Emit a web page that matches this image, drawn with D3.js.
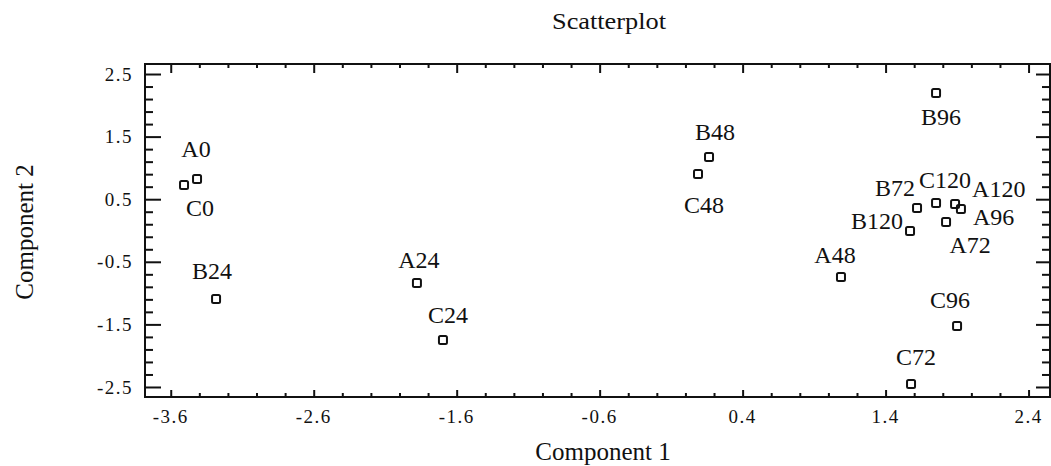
<!DOCTYPE html>
<html>
<head>
<meta charset="utf-8">
<script src="https://cdn.jsdelivr.net/npm/d3@7"></script>
<style>
  body { margin: 0; background: #fff; }
  svg text { font-family: "Liberation Serif", "Times New Roman", serif; fill: #111; }
</style>
</head>
<body>
<svg id="chart" width="1051" height="466"></svg>
<script>
(function() {
  'use strict';

  // sample names and their scores on the two components
  const names = ['A0', 'C0', 'B24', 'A24', 'C24', 'B48', 'C48', 'B96', 'B72',
    'C120', 'A120', 'A96', 'A72', 'B120', 'A48', 'C96', 'C72'];
  const comp1 = [-3.416, -3.507, -3.283, -1.878, -1.696, 0.165, 0.088, 1.753, 1.620,
    1.753, 1.886, 1.927, 1.823, 1.571, 1.088, 1.900, 1.578];
  const comp2 = [0.823, 0.727, -1.094, -0.839, -1.750, 1.174, 0.903, 2.197, 0.359,
    0.439, 0.423, 0.343, 0.136, -0.008, -0.743, -1.526, -2.453];

  const xTicks = [-3.6, -2.6, -1.6, -0.6, 0.4, 1.4, 2.4];
  const yTicks = [-2.5, -1.5, -0.5, 0.5, 1.5, 2.5];

  // where each label sits relative to its marker: [dx, dy, anchor]
  const labelPlace = [
    [-1, -22, 'middle'], [16, 31, 'middle'], [-4, -20, 'middle'], [2, -15, 'middle'],
    [5, -17, 'middle'], [6, -17, 'middle'], [6, 39, 'middle'], [5, 32, 'middle'],
    [-2, -12, 'end'], [9, -15, 'middle'], [17, -7, 'start'], [12, 16, 'start'],
    [24, 31, 'middle'], [-7, -2, 'end'], [-6, -14, 'middle'], [-7, -18, 'middle'],
    [5, -19, 'middle'],
  ];

  const svg = d3.select('#chart');
  const left = 145;
  const right = 1050;
  const top = 64;
  const bottom = 397;

  const x = d3.scaleLinear().domain([-3.78, 2.55]).range([left, right]);
  const y = d3.scaleLinear().domain([-2.66, 2.66]).range([bottom, top]);

  // plain hyphen for negatives, like the original
  const fmt = (d) => d.toFixed(1);

  // frame
  svg.append('rect')
      .attr('x', left)
      .attr('y', top)
      .attr('width', right - left)
      .attr('height', bottom - top)
      .attr('fill', 'none')
      .attr('stroke', '#111')
      .attr('stroke-width', 2);

  const xMinor = d3.range(-3.6, 2.41, 0.2).map((v) => +v.toFixed(1));
  const yMinor = d3.range(-2.5, 2.51, 0.2).map((v) => +v.toFixed(1));
  const isMajor = (list, v) => list.some((t) => Math.abs(t - v) < 1e-6);

  // inward ticks on all four sides
  const bottomAxis = d3.axisBottom(x).tickValues(xMinor).tickFormat('')
      .tickSizeInner(-4).tickSizeOuter(0);
  const topAxis = d3.axisTop(x).tickValues(xMinor).tickFormat('')
      .tickSizeInner(-4).tickSizeOuter(0);
  const leftAxis = d3.axisLeft(y).tickValues(yMinor).tickFormat('')
      .tickSizeInner(-8).tickSizeOuter(0);
  const rightAxis = d3.axisRight(y).tickValues(yMinor).tickFormat('')
      .tickSizeInner(-8).tickSizeOuter(0);

  const gb = svg.append('g').attr('transform', 'translate(0,' + bottom + ')').call(bottomAxis);
  const gt = svg.append('g').attr('transform', 'translate(0,' + top + ')').call(topAxis);
  const gl = svg.append('g').attr('transform', 'translate(' + left + ',0)').call(leftAxis);
  const gr = svg.append('g').attr('transform', 'translate(' + right + ',0)').call(rightAxis);

  [gb, gt, gl, gr].forEach((g) => {
    g.select('.domain').remove();
    g.selectAll('line').attr('stroke', '#111').attr('stroke-width', 2);
  });
  gb.selectAll('.tick line').filter((d) => isMajor(xTicks, d)).attr('y2', -7);
  gt.selectAll('.tick line').filter((d) => isMajor(xTicks, d)).attr('y2', 9);
  gl.selectAll('.tick line').filter((d) => isMajor(yTicks, d)).attr('x2', 16);
  gr.selectAll('.tick line').filter((d) => isMajor(yTicks, d)).attr('x2', -14);

  // tick labels
  svg.append('g').selectAll('text')
      .data(xTicks)
      .join('text')
      .attr('x', (d) => x(d))
      .attr('y', 423)
      .attr('text-anchor', 'middle')
      .attr('font-size', 19)
      .attr('letter-spacing', 1.5)
      .text(fmt);

  svg.append('g').selectAll('text')
      .data(yTicks)
      .join('text')
      .attr('x', 133)
      .attr('y', (d) => y(d))
      .attr('dy', '0.35em')
      .attr('text-anchor', 'end')
      .attr('font-size', 19)
      .attr('letter-spacing', 1.5)
      .text(fmt);

  // titles
  svg.append('text')
      .attr('x', 552)
      .attr('y', 29)
      .attr('font-size', 24)
      .attr('textLength', 114)
      .attr('lengthAdjust', 'spacingAndGlyphs')
      .text('Scatterplot');

  svg.append('text')
      .attr('x', 603)
      .attr('y', 460)
      .attr('text-anchor', 'middle')
      .attr('font-size', 25)
      .text('Component 1');

  svg.append('text')
      .attr('transform', 'translate(33,232) rotate(-90)')
      .attr('text-anchor', 'middle')
      .attr('font-size', 25)
      .text('Component 2');

  const points = names.map((name, i) => ({
    name: name,
    c1: comp1[i],
    c2: comp2[i],
    place: labelPlace[i],
  }));

  // markers
  svg.append('g').selectAll('rect')
      .data(points)
      .join('rect')
      .attr('x', (d) => x(d.c1) - 4)
      .attr('y', (d) => y(d.c2) - 4)
      .attr('width', 8)
      .attr('height', 8)
      .attr('rx', 1.5)
      .attr('fill', 'none')
      .attr('stroke', '#111')
      .attr('stroke-width', 2);

  // point labels
  svg.append('g').selectAll('text')
      .data(points)
      .join('text')
      .attr('x', (d) => x(d.c1) + d.place[0])
      .attr('y', (d) => y(d.c2) + d.place[1])
      .attr('text-anchor', (d) => d.place[2])
      .attr('font-size', 24)
      .text((d) => d.name);
})();
</script>
</body>
</html>
